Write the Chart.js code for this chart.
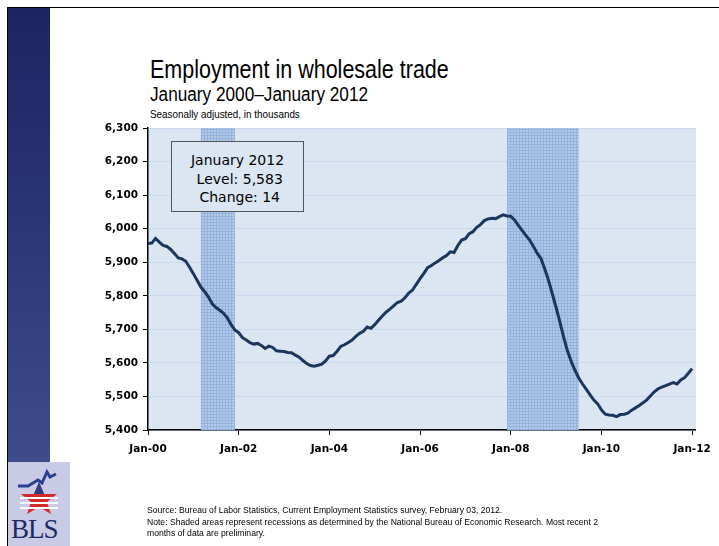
<!DOCTYPE html>
<html>
<head>
<meta charset="utf-8">
<title>Employment in wholesale trade</title>
<script src="https://cdn.jsdelivr.net/npm/chart.js@4.4.1/dist/chart.umd.min.js"></script>
<style>
  body { margin: 0; width: 719px; height: 546px; overflow: hidden; position: relative; background: #fff; font-family: 'DejaVu Sans', sans-serif; }
  #frame-top { position: absolute; left: 7px; top: 7px; right: 0; height: 1px; background: #000; }
  #frame-left { position: absolute; left: 7px; top: 7px; width: 1px; bottom: 0; background: #000; }
  #side { position: absolute; left: 8px; top: 8px; width: 42px; height: 454px; background: linear-gradient(#1d2462, #2a3575 45%, #3f4c8c); }
  #logo { position: absolute; left: 8px; top: 462px; width: 62px; height: 84px; background: #c9cbe6; }
  #logo svg { position: absolute; left: 6px; top: 6px; }
  #logo span { position: absolute; left: 3px; top: 52px; font-family: 'Liberation Serif', serif; font-size: 27px; color: #1b2a63; letter-spacing: -1px; }
  .t { position: absolute; left: 150px; white-space: nowrap; color: #000; font-family: 'Liberation Sans', sans-serif; transform-origin: left top; }
  #t1 { top: 55px; font-size: 25px; transform: scaleX(0.86); }
  #t2 { top: 83px; font-size: 20px; transform: scaleX(0.86); }
  #t3 { top: 108px; font-size: 10.5px; transform: scaleX(0.94); }
  #wrap { position: absolute; left: 0; top: 0; width: 719px; height: 546px; }
  #note { position: absolute; left: 171px; top: 141px; width: 133px; height: 71px; background: #dce6f2; border: 1px solid #555; text-align: center; font-size: 14px; line-height: 18.5px; padding-top: 9px; box-sizing: border-box; }
  #source { position: absolute; left: 147px; top: 505px; font-family: 'Liberation Sans', sans-serif; font-size: 8.6px; line-height: 11.5px; color: #000; white-space: nowrap; }
</style>
</head>
<body>
<div id="frame-top"></div>
<div id="frame-left"></div>
<div id="side"></div>
<div id="logo">
  <svg width="50" height="48" viewBox="0 0 50 48">
    <polyline points="4,18 14,18 24,12 28,15 33,4 36,9 42,6" fill="none" stroke="#2a3f8f" stroke-width="3"/>
    <polygon points="25,14 30,26 43,26 33,34 37,46 25,39 13,46 17,34 7,26 20,26" fill="#d42a2a"/>
    <rect x="6" y="29" width="38" height="2" fill="#fff"/>
    <rect x="6" y="34" width="38" height="2" fill="#fff"/>
    <rect x="6" y="39" width="38" height="2" fill="#fff"/>
    <polygon points="25,14 30,26 20,26" fill="#2a3f8f"/>
  </svg>
  <span>BLS</span>
</div>
<div class="t" id="t1">Employment in wholesale trade</div>
<div class="t" id="t2">January 2000–January 2012</div>
<div class="t" id="t3">Seasonally adjusted, in thousands</div>
<div id="wrap"><canvas id="chart" width="719" height="546"></canvas></div>
<div id="note">January 2012<br>&nbsp;Level: 5,583<br>&nbsp;Change: 14</div>
<div id="source">Source: Bureau of Labor Statistics, Current Employment Statistics survey, February 03, 2012.<br>Note: Shaded areas represent recessions as determined by the National Bureau of Economic Research. Most recent 2<br>months of data are preliminary.</div>

<script>
// monthly employment, Jan 2000 .. Jan 2012 (thousands)
const employment = [
  5956, 5957, 5971, 5960, 5950, 5947, 5938, 5926, 5913, 5910, 5903, 5885,
  5866, 5846, 5826, 5812, 5796, 5776, 5765, 5757, 5748, 5734, 5714, 5698,
  5690, 5675, 5668, 5660, 5656, 5658, 5652, 5643, 5650, 5646, 5636, 5635,
  5634, 5631, 5630, 5623, 5617, 5607, 5598, 5592, 5590, 5593, 5596, 5606,
  5620, 5622, 5634, 5649, 5654, 5661, 5668, 5679, 5688, 5694, 5707, 5703,
  5714, 5727, 5740, 5751, 5760, 5770, 5780, 5784, 5794, 5808, 5817, 5834,
  5851, 5867, 5884, 5890, 5898, 5905, 5913, 5920, 5931, 5929, 5950, 5966,
  5970, 5985, 5991, 6004, 6012, 6024, 6029, 6031, 6030, 6036, 6041, 6038,
  6037, 6026, 6010, 5995, 5980, 5966, 5947, 5927, 5911, 5880, 5846, 5806,
  5765, 5722, 5677, 5636, 5604, 5578, 5555, 5537, 5521, 5505, 5489, 5478,
  5460, 5447, 5445, 5444, 5440, 5446, 5447, 5450, 5459, 5466, 5473, 5481,
  5490, 5502, 5514, 5523, 5528, 5532, 5537, 5541, 5537, 5549, 5556, 5569,
  5583
];

// x tick positions (month index from Jan 2000) and their labels
const xTickMonths = [0, 24, 48, 72, 96, 120, 144];
const xTickLabels = ['Jan-00', 'Jan-02', 'Jan-04', 'Jan-06', 'Jan-08', 'Jan-10', 'Jan-12'];

// recessions, as month indexes: Mar 2001 - Nov 2001, Dec 2007 - Jun 2009
const recessionStart = [14, 95];
const recessionEnd = [23, 114];

const yMin = 5400, yMax = 6300, yStep = 100;
const lastMonth = 145;

const points = employment.map((v, i) => ({ x: i, y: v }));

const backdrop = {
  id: 'backdrop',
  beforeDraw(chart) {
    const { ctx, chartArea: a } = chart;
    ctx.save();
    ctx.fillStyle = '#dce6f2';
    ctx.fillRect(a.left, a.top, a.right - a.left, a.bottom - a.top);
    ctx.restore();
  },
  beforeDatasetsDraw(chart) {
    const { ctx, chartArea: a, scales } = chart;
    const tile = document.createElement('canvas');
    tile.width = 3; tile.height = 3;
    const t = tile.getContext('2d');
    t.fillStyle = '#b3c9e8';
    t.fillRect(0, 0, 3, 3);
    t.fillStyle = '#93b2dc';
    t.fillRect(0, 0, 3, 1);
    t.fillRect(0, 0, 1, 3);
    ctx.save();
    ctx.fillStyle = ctx.createPattern(tile, 'repeat');
    recessionStart.forEach((s, k) => {
      const x0 = scales.x.getPixelForValue(s);
      const x1 = scales.x.getPixelForValue(recessionEnd[k]);
      ctx.fillRect(x0, a.top, x1 - x0, a.bottom - a.top);
    });
    ctx.restore();
  }
};

const tickFont = { family: 'DejaVu Sans', size: 10.5, weight: 'bold' };

new Chart(document.getElementById('chart'), {
  type: 'line',
  data: {
    datasets: [{
      data: points,
      borderColor: '#1b365d',
      borderWidth: 3,
      pointRadius: 0,
      tension: 0,
      fill: false
    }]
  },
  options: {
    responsive: false,
    animation: false,
    layout: { padding: { left: 100, top: 128, right: 23, bottom: 76 } },
    plugins: { legend: { display: false }, tooltip: { enabled: false } },
    scales: {
      x: {
        type: 'linear',
        min: 0,
        max: lastMonth,
        afterBuildTicks(axis) { axis.ticks = xTickMonths.map(v => ({ value: v })); },
        afterFit(axis) { axis.height = 40; },
        border: { color: '#000', width: 1.5 },
        grid: { drawOnChartArea: false, drawTicks: true, tickLength: 5, tickColor: '#000', tickWidth: 1 },
        ticks: {
          color: '#000', font: tickFont, padding: 8, maxRotation: 0,
          callback: v => xTickLabels[xTickMonths.indexOf(v)]
        }
      },
      y: {
        min: yMin,
        max: yMax,
        afterFit(axis) { axis.width = 48; },
        border: { color: '#000', width: 1.5 },
        grid: { color: '#c9daf0', lineWidth: 1, tickLength: 5, tickColor: '#000' },
        ticks: {
          stepSize: yStep, color: '#000', font: tickFont, padding: 5,
          callback: v => v.toLocaleString('en-US')
        }
      }
    }
  },
  plugins: [backdrop]
});
</script>
</body>
</html>
